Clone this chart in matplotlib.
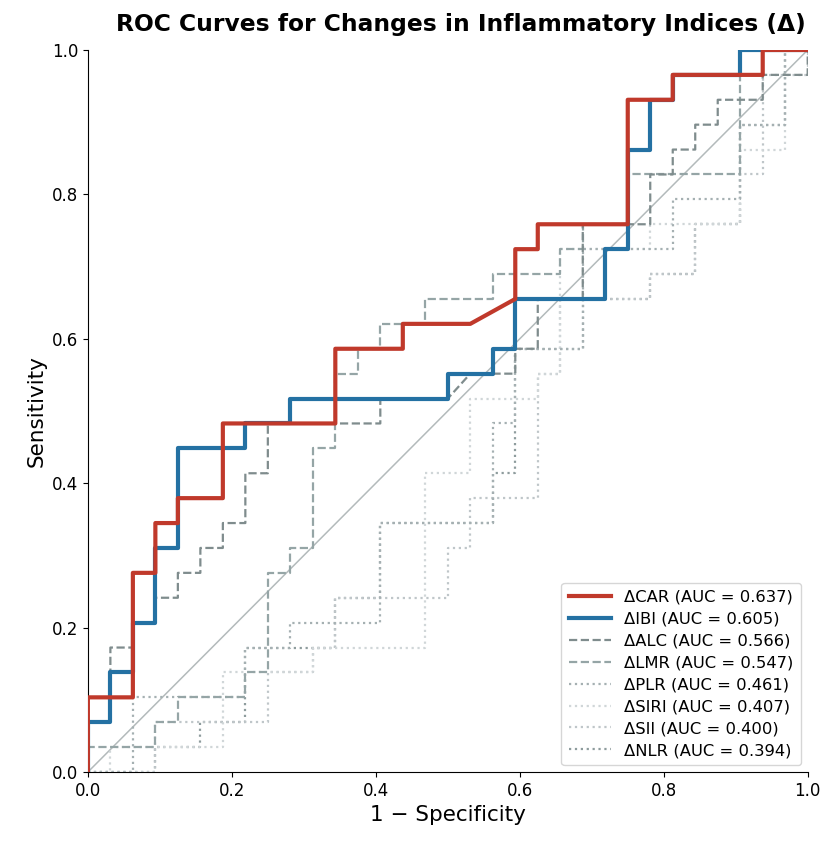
import numpy as np
import matplotlib
matplotlib.use("Agg")
import matplotlib.pyplot as plt

# 29 positive cases, 32 negative cases -> ROC steps (counts)
n_pos = 29
n_neg = 32

car_fp = [0, 0, 2, 2, 3, 3, 4, 4, 6, 6, 11, 11, 14, 14, 17, 19, 19, 20, 20, 24, 24, 26, 26, 30, 30, 32]
car_tp = [0, 3, 3, 8, 8, 10, 10, 11, 11, 14, 14, 17, 17, 18, 18, 19, 21, 21, 22, 22, 27, 27, 28, 28, 29, 29]

ibi_fp = [0, 0, 1, 1, 2, 2, 3, 3, 4, 4, 7, 7, 9, 9, 16, 16, 18, 18, 19, 19, 23, 23, 24, 24, 25, 25, 26, 26, 29, 29, 32]
ibi_tp = [0, 2, 2, 4, 4, 6, 6, 9, 9, 13, 13, 14, 14, 15, 15, 16, 16, 17, 17, 19, 19, 21, 21, 25, 25, 27, 27, 28, 28, 29, 29]

alc_fp = [0, 0, 1, 1, 2, 2, 3, 3, 4, 4, 5, 5, 6, 6, 7, 7, 8, 8, 13, 13, 16, 17, 19, 19, 20, 20,
          22, 22, 25, 25, 26, 26, 27, 27, 28, 28, 30, 30, 32, 32]
alc_tp = [0, 3, 3, 5, 5, 6, 6, 7, 7, 8, 8, 9, 9, 10, 10, 12, 12, 14, 14, 15, 15, 16, 16, 17, 17, 19,
          19, 22, 22, 24, 24, 25, 25, 26, 26, 27, 27, 28, 28, 29]

lmr_fp = [0, 0, 3, 3, 4, 4, 7, 7, 8, 8, 9, 9, 10, 10, 11, 11, 12, 12, 13, 13, 15, 15, 18, 18,
          21, 21, 22, 22, 24, 24, 29, 29, 32]
lmr_tp = [0, 1, 1, 2, 2, 3, 3, 4, 4, 8, 8, 9, 9, 13, 13, 16, 16, 17, 17, 18, 18, 19, 19, 20,
          20, 21, 21, 22, 22, 24, 24, 29, 29]

plr_fp = [0, 2, 2, 7, 7, 9, 9, 13, 13, 18, 18, 19, 19, 22, 22, 26, 26, 29, 29, 31, 31, 32]
plr_tp = [0, 0, 3, 3, 5, 5, 6, 6, 10, 10, 14, 14, 17, 17, 21, 21, 23, 23, 26, 26, 29, 29]

siri_fp = [0, 1, 1, 6, 6, 10, 10, 15, 15, 17, 17, 20, 20, 21, 21, 25, 25, 29, 29, 31, 31, 32]
siri_tp = [0, 0, 1, 1, 4, 4, 5, 5, 12, 12, 15, 15, 16, 16, 21, 21, 22, 22, 25, 25, 29, 29]

sii_fp = [0, 3, 3, 8, 8, 10, 10, 11, 11, 16, 16, 17, 17, 20, 20, 21, 21, 25, 25, 27, 27, 29, 29,
          30, 30, 32, 32]
sii_tp = [0, 0, 2, 2, 4, 4, 5, 5, 7, 7, 9, 9, 11, 11, 16, 16, 19, 19, 20, 20, 22, 22, 24,
          24, 28, 28, 29]

nlr_fp = [0, 3, 3, 5, 5, 7, 7, 11, 11, 13, 13, 18, 18, 19, 19, 22, 22, 25, 25, 27, 27, 29, 29, 31, 31, 32]
nlr_tp = [0, 0, 1, 1, 2, 2, 5, 5, 7, 7, 10, 10, 12, 12, 17, 17, 19, 19, 20, 20, 22, 22, 26, 26, 29, 29]

labels = ["\u0394CAR (AUC = 0.637)", "\u0394IBI (AUC = 0.605)", "\u0394ALC (AUC = 0.566)",
          "\u0394LMR (AUC = 0.547)", "\u0394PLR (AUC = 0.461)", "\u0394SIRI (AUC = 0.407)",
          "\u0394SII (AUC = 0.400)", "\u0394NLR (AUC = 0.394)"]

curves = [(car_fp, car_tp), (ibi_fp, ibi_tp), (alc_fp, alc_tp), (lmr_fp, lmr_tp),
          (plr_fp, plr_tp), (siri_fp, siri_tp), (sii_fp, sii_tp), (nlr_fp, nlr_tp)]
colors = ["#c0392b", "#2471a3", "#7f8c8d", "#95a5a6", "#a5b0b2", "#d0d6d8", "#bfc6c9", "#8e9c9d"]
styles = ["-", "-", "--", "--", ":", ":", ":", ":"]
widths = [3, 3, 1.6, 1.6, 1.6, 1.6, 1.6, 1.6]

fig = plt.figure(figsize=(8.37, 8.47), dpi=100)
ax = fig.add_axes([0.105, 0.0885, 0.86, 0.8525])

ax.plot([0, 1], [0, 1], color="#b3babb", linewidth=1.1, zorder=1)

# grey ones first so the two main curves sit on top
order = [7, 6, 5, 4, 3, 2, 1, 0]
handles = {}
for k in order:
    fp, tp = curves[k]
    fpr = np.array(fp) / n_neg
    tpr = np.array(tp) / n_pos
    line, = ax.plot(fpr, tpr, color=colors[k], linestyle=styles[k], linewidth=widths[k],
                    label=labels[k], zorder=2 + (8 - k))
    handles[k] = line

ax.set_xlim(0, 1)
ax.set_ylim(0, 1)
ax.set_xticks(np.arange(0, 1.01, 0.2))
ax.set_yticks(np.arange(0, 1.01, 0.2))
ax.tick_params(labelsize=12)
ax.spines["top"].set_visible(False)
ax.spines["right"].set_visible(False)
ax.set_xlabel("1 \u2212 Specificity", fontsize=15.5)
ax.set_ylabel("Sensitivity", fontsize=15.5)
ax.set_title("ROC Curves for Changes in Inflammatory Indices (\u0394)", fontsize=16.8,
             fontweight="bold", pad=14, x=0.518)

ax.legend([handles[k] for k in range(8)], labels, loc="lower right", fontsize=11.8,
          frameon=True, edgecolor="#cccccc", borderpad=0.45, handlelength=2.6,
          labelspacing=0.42, borderaxespad=0.4)

fig.savefig("out.png", dpi=100)
